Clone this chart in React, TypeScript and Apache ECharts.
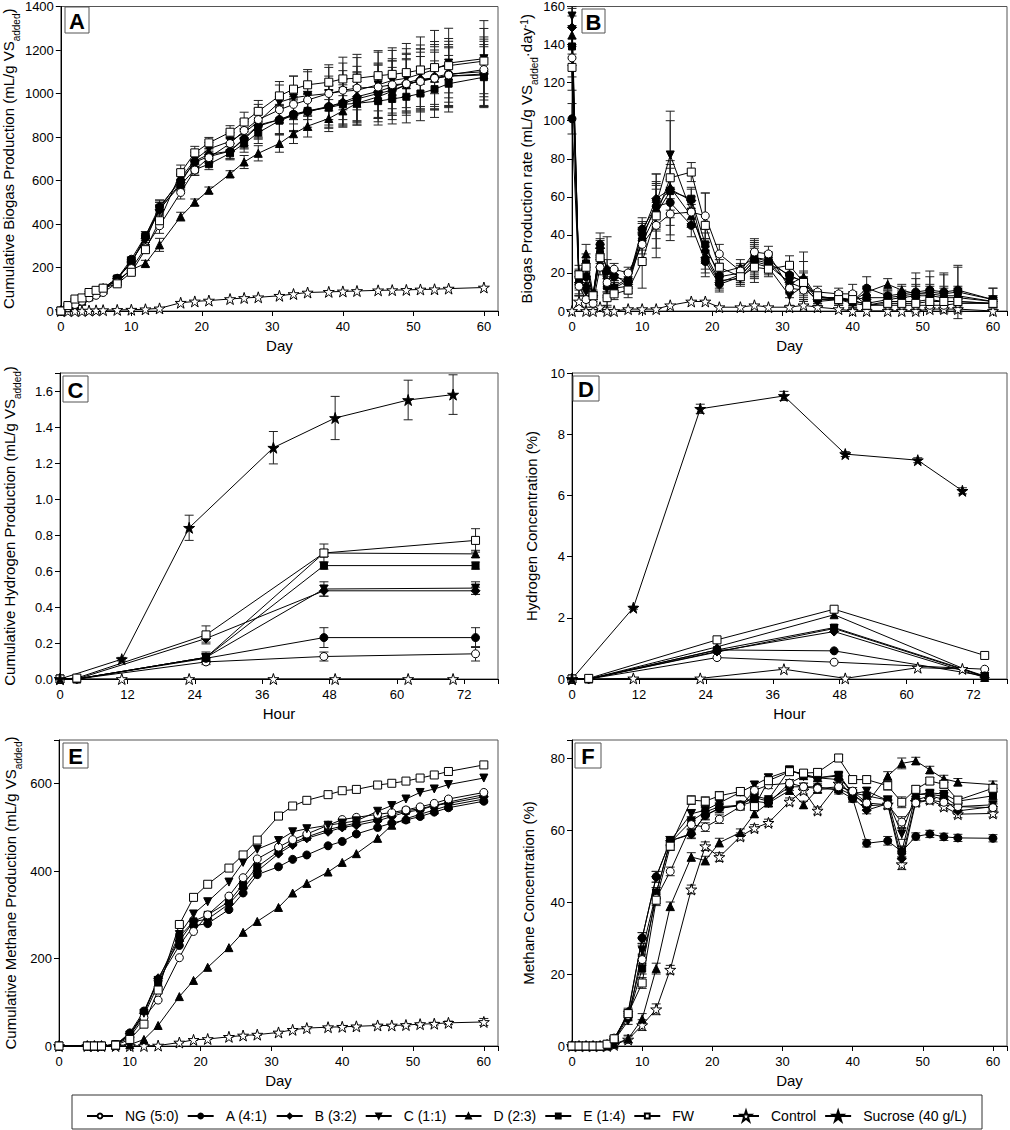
import React, { useEffect, useRef } from 'react';
import * as echarts from 'echarts';

// ---------- Panel A: cumulative biogas (mL/g VS added) ----------
const daysA = [0,1,2,3,4,5,6,8,10,12,14,17,19,21,24,26,28,31,33,35,38,40,42,45,47,49,51,53,55,60];
const NG_A = [0,15,30,45,60,72,85,130,195,290,392,545,648,705,770,830,880,925,950,970,1000,1015,1025,1030,1040,1045,1055,1070,1085,1110];
const A_A = [0,20,35,50,70,90,105,150,238,345,480,600,685,710,735,790,850,880,905,920,940,955,975,1000,1015,1040,1060,1075,1090,1100];
const B_A = [0,20,35,50,70,90,105,150,225,335,465,590,690,720,735,795,855,880,900,915,940,960,985,1010,1030,1050,1065,1070,1080,1090];
const C_A = [0,18,32,48,65,85,100,145,230,325,470,610,695,745,780,820,870,960,980,990,1000,1010,1015,1040,1060,1070,1090,1110,1140,1160];
const D_A = [0,15,30,45,65,85,100,140,190,218,304,434,500,555,630,685,725,770,815,850,885,920,955,985,1010,1040,1060,1070,1080,1085];
const E_A = [0,20,35,50,70,90,105,150,220,345,470,580,650,675,725,770,820,875,900,920,935,950,955,965,975,985,1000,1020,1045,1075];
const FW_A = [0,25,55,60,85,95,105,125,178,282,415,636,727,773,822,869,918,989,1020,1040,1052,1067,1070,1082,1088,1096,1108,1119,1128,1149];
const CTRL_A = [0,0,0,0,2,3,4,5,6,8,12,38,44,48,55,60,63,70,78,85,88,90,92,95,96,97,99,100,103,108];
const NG_A_err = [0,2,3,4,5,5,6,8,10,15,35,30,25,25,30,40,50,60,70,75,80,90,100,110,110,110,115,120,125,140];
const A_A_err = [0,2,3,4,5,5,6,8,10,20,30,30,30,25,35,45,55,70,80,90,100,110,120,130,135,140,145,150,150,160];
const B_A_err = [0,2,3,4,5,5,6,8,10,20,35,30,25,25,35,45,55,65,75,85,95,105,115,125,130,135,140,145,145,150];
const C_A_err = [0,2,3,4,5,5,6,8,10,20,40,40,35,30,40,60,80,95,100,110,120,130,150,150,150,160,170,180,160,175];
const D_A_err = [0,2,3,4,5,5,6,8,10,15,30,20,15,15,15,30,35,40,45,50,60,70,80,100,110,120,130,130,135,140];
const E_A_err = [0,2,3,4,5,5,6,8,10,20,30,25,25,25,30,40,50,60,70,75,80,90,100,110,115,120,125,130,130,140];
const FW_A_err = [0,2,3,4,5,5,6,8,10,15,30,35,30,25,30,45,50,50,60,70,80,100,110,115,110,110,115,120,125,150];

// ---------- Panel B: biogas production rate ----------
const daysB = [0,1,2,3,4,5,6,8,10,12,14,17,19,21,24,26,28,31,33,35,38,40,42,45,47,49,51,53,55,60];
const NG_B = [133,13,6,4,23,15,22,20,35,45,51,52,50,30,21,31,30,12,11,10,9,9,3,3,3,3,3,3,4,4];
const A_B = [101,14,18,8,35,21,18,16,43,55,57,45,26,14,18,27,25,19,15,6,7,5,12,8,9,10,11,10,11,6];
const B_B = [149,15,13,8,33,22,19,14,41,59,64,58,28,15,19,26,24,15,12,6,6,5,4,6,7,8,8,7,7,5];
const C_B = [155,13,10,7,28,12,12,13,38,56,82,52,30,16,17,25,23,8,13,5,6,4,3,5,5,5,6,5,5,4];
const D_B = [145,17,30,9,32,15,13,17,40,54,65,50,33,20,23,28,26,14,18,7,7,5,10,14,11,9,9,8,8,5];
const E_B = [139,16,25,8,30,13,12,16,36,51,63,59,35,18,20,28,27,18,16,7,7,6,7,7,8,9,10,9,10,6];
const FW_B = [128,19,23,8,28,7,9,11,26,50,70,73,45,23,18,23,22,24,15,8,6,6,3,4,4,4,5,5,5,4];
const CTRL_B = [0,5,0,0,2,0,0,1,1,1,3,5,5,2,2,3,2,2,3,2,1,0,0,0,0,0,1,1,1,0];
const NG_B_err = [10,5,4,2,4,5,3,3,8,12,14,8,12,5,4,6,4,5,5,3,3,5,2,2,2,2,2,2,2,2];
const A_B_err = [8,6,5,2,6,18,3,4,6,12,12,6,8,4,4,8,4,5,6,3,3,4,6,3,4,10,10,10,12,6];
const B_B_err = [10,6,5,2,5,5,3,4,6,13,15,6,8,4,4,8,4,5,5,3,3,4,3,3,3,5,5,5,5,3];
const C_B_err = [5,5,5,2,5,5,3,4,6,12,23,6,8,4,4,8,4,5,5,3,3,4,3,3,3,5,5,5,5,3];
const D_B_err = [10,5,5,2,5,5,3,4,6,12,12,6,8,4,4,8,4,5,13,3,3,4,3,3,3,5,5,5,5,3];
const E_B_err = [10,5,5,2,5,5,3,4,6,13,12,6,8,4,4,10,4,5,10,3,3,4,3,3,3,8,8,10,14,6];
const FW_B_err = [12,5,5,2,5,5,3,4,14,22,30,5,17,4,4,8,4,5,5,3,3,4,3,3,3,5,5,5,5,3];

// ---------- Panel C: cumulative hydrogen (mL/g VS added) ----------
const hoursMain = [0,3,26,47,74];
const hoursSuc = [0,11,23,38,49,62,70];
const NG_C = [0,0,0.095,0.125,0.14];
const A_C = [0,0,0.115,0.23,0.23];
const B_C = [0,0,0.225,0.49,0.49];
const C_C = [0,0,0.12,0.50,0.505];
const D_C = [0,0,0.12,0.70,0.695];
const E_C = [0,0,0.12,0.63,0.63];
const FW_C = [0,0.005,0.245,0.70,0.77];
const CTRL_C = [0,0,0,0,0,0,0];
const SUC_C = [0,0.11,0.84,1.285,1.45,1.55,1.58];
const NG_C_err = [0,0,0.015,0.025,0.04];
const A_C_err = [0,0,0.02,0.055,0.055];
const B_C_err = [0,0,0.02,0.03,0.02];
const C_C_err = [0,0,0.03,0.04,0.035];
const D_C_err = [0,0,0.02,0.02,0.02];
const E_C_err = [0,0,0.02,0.02,0.02];
const FW_C_err = [0,0,0.05,0.05,0.065];
const SUC_C_err = [0,0.01,0.07,0.09,0.12,0.11,0.11];

// ---------- Panel D: hydrogen concentration (%) ----------
const NG_D = [0,0,0.70,0.55,0.32];
const A_D = [0,0,0.95,0.92,0.10];
const B_D = [0,0,0.90,1.55,0.05];
const C_D = [0,0,0.88,1.65,0.08];
const D_D = [0,0,1.05,2.10,0.05];
const E_D = [0,0,0.95,1.68,0.10];
const FW_D = [0,0.02,1.28,2.28,0.77];
const CTRL_D = [0,0.02,0.02,0.32,0.02,0.37,0.33];
const SUC_D = [0,2.33,8.83,9.25,7.35,7.15,6.15];
const SUC_D_err = [0,0.05,0.15,0.15,0.08,0.08,0.1];

// ---------- Panel E: cumulative methane (mL/g VS added) ----------
const daysE = [0,4,5,6,8,10,12,14,17,19,21,24,26,28,31,33,35,38,40,42,45,47,49,51,53,55,60];
const NG_E = [0,0,0,0,3,20,65,105,202,262,300,343,385,428,455,472,485,505,518,523,530,534,540,547,555,565,580];
const A_E = [0,0,0,0,3,30,80,150,230,275,280,312,350,392,410,427,437,458,468,485,500,510,517,525,535,545,560];
const B_E = [0,0,0,0,3,28,75,155,240,285,290,325,360,400,440,460,475,490,500,505,515,525,535,540,550,555,570];
const C_E = [0,0,0,0,3,25,75,150,255,302,330,375,420,450,470,490,497,505,510,515,537,550,565,580,588,598,613];
const D_E = [0,0,0,0,1,3,15,47,113,150,180,225,260,285,317,350,372,398,420,440,475,505,520,530,540,550,565];
const E_E = [0,0,0,0,3,25,70,140,250,285,300,330,370,410,445,465,478,495,503,510,520,530,538,543,550,558,575];
const FW_E = [0,0,0,0,2,15,50,128,278,340,370,407,437,471,526,549,562,575,584,587,597,601,606,613,620,628,643];
const CTRL_E = [0,0,0,0,0,0,0,1,8,14,16,21,24,26,31,37,41,43,44,45,47,47,48,50,51,53,55];
const CTRL_E_err = [0,0,0,0,0,0,0,0,1,1,1,1,1,2,2,2,2,2,2,2,2,2,3,3,3,4,8];

// ---------- Panel F: methane concentration (%) ----------
const daysF = [0,1,2,3,4,5,6,8,10,12,14,17,19,21,24,26,28,31,33,35,38,40,42,45,47,49,51,53,55,60];
const NG_F = [0,0,0,0,0,0.5,2.2,8.5,24,41,48.5,61.5,60.8,63,66.5,71,72.5,73,72,71.5,72,70.8,67.5,67,62.2,67.5,68.3,67.7,66.5,66.2];
const A_F = [0,0,0,0,0,0.5,1.5,9,30,47,57,59,64,66,67,69,68,72,72,72,71,68.7,56.3,57,54,58.2,58.9,58.1,57.8,57.7];
const B_F = [0,0,0,0,0,0.5,1.5,9.5,30,47,57,58.8,64.2,66,66.8,68,67.5,73,75,74.5,74,69,65.5,67.3,52,68.3,69.5,68.5,65.3,66.5];
const C_F = [0,0,0,0,0,0.3,1.5,7,26.5,42.5,57,64.5,65.5,67.5,70.5,72.5,74.5,76.5,75.5,74.5,75,70,70.8,68.2,58.9,69.8,70,69.3,66.5,67];
const D_F = [0,0,0,0,0,0,0.5,2,7.5,21.5,38.8,52.5,51.5,56.5,59.3,64.5,67.5,71,67,71.3,71.5,69.7,67.4,75,78.5,79.2,76.7,74.2,73.3,72.6];
const E_F = [0,0,0,0,0,0.5,1.5,8,21.5,42.5,56.5,62.5,65,66.5,66.8,69.5,68.5,76.8,75,74.5,75.3,70.3,69.5,68.3,54,69.8,70.3,70,68,69.5];
const FW_F = [0,0,0,0,0,0.5,2,9,17.5,40.5,55.5,68.3,68,69.5,70.7,66.5,73.7,76.2,75.8,76,80,74,74,72.3,67.7,71.3,73.6,72.7,68.3,71.6];
const CTRL_F = [0,0,0,0,0,0,0.3,1.8,5.8,10.2,21.2,43.5,55.5,52.5,58.2,60.5,62,67.9,71,65.4,72.9,70,66.7,67.1,50.5,67.8,68.4,66.5,64.4,64.6];
const F_err = [0,0,0,0,0,0.3,0.5,1,1.5,1.5,1.2,1.2,1.2,1.2,1,1,1,1,1,1,1,1,1,1.2,1.5,1,1,1,1,1];

// ---------- Legend names ----------
const NAMES_1 = ['NG (5:0)','A (4:1)','B (3:2)','C (1:1)','D (2:3)','E (1:4)','FW'];
const NAMES_2 = ['Control','Sucrose (40 g/L)'];

const FONT = "'Liberation Sans', Arial, Helvetica, sans-serif";
const STAR = 'path://M50,0L61.2,34.5L97.6,34.5L68.2,55.9L79.4,90.5L50,69.1L20.6,90.5L31.8,55.9L2.4,34.5L38.8,34.5Z';

const STYLE: Record<string, any> = {
  'NG (5:0)': { symbol: 'circle', size: 8, fill: '#fff' },
  'A (4:1)': { symbol: 'circle', size: 8, fill: '#000' },
  'B (3:2)': { symbol: 'diamond', size: 9, fill: '#000' },
  'C (1:1)': { symbol: 'triangle', size: 8, fill: '#000', rotate: 180 },
  'D (2:3)': { symbol: 'triangle', size: 8, fill: '#000' },
  'E (1:4)': { symbol: 'rect', size: 7, fill: '#000' },
  'FW': { symbol: 'rect', size: 8, fill: '#fff' },
  'Control': { symbol: STAR, size: 11, fill: '#fff' },
  'Sucrose (40 g/L)': { symbol: STAR, size: 11, fill: '#000' },
};

function errRender(params: any, api: any) {
  const x = api.value(0), y = api.value(1), e = api.value(2);
  if (!e) return { type: 'group', children: [] };
  const p1 = api.coord([x, y + e]);
  const p2 = api.coord([x, y - e]);
  const c = 4.5;
  const st = { stroke: '#222', lineWidth: 1 };
  return {
    type: 'group',
    children: [
      { type: 'line', shape: { x1: p1[0], y1: p1[1], x2: p2[0], y2: p2[1] }, style: st },
      { type: 'line', shape: { x1: p1[0] - c, y1: p1[1], x2: p1[0] + c, y2: p1[1] }, style: st },
      { type: 'line', shape: { x1: p2[0] - c, y1: p2[1], x2: p2[0] + c, y2: p2[1] }, style: st },
    ],
  };
}

function buildSeries() {
  const out: any[] = [];
  const line = (idx: number, name: string, xs: number[], ys: number[], errs?: number[]) => {
    const s = STYLE[name];
    if (errs) {
      out.push({
        type: 'custom', xAxisIndex: idx, yAxisIndex: idx, silent: true, z: 2,
        renderItem: errRender, encode: { x: 0, y: 1 },
        data: xs.map((x, k) => [x, ys[k], errs[k]]),
      });
    }
    out.push({
      type: 'line', name, xAxisIndex: idx, yAxisIndex: idx, z: 3,
      data: xs.map((x, k) => [x, ys[k]]),
      symbol: s.symbol, symbolSize: s.size, symbolRotate: s.rotate || 0,
      showAllSymbol: true,
      itemStyle: { color: s.fill, borderColor: '#000', borderWidth: 1 },
      lineStyle: { color: '#000', width: 1 },
      emphasis: { disabled: true },
    });
  };
  // A
  line(0, 'Control', daysA, CTRL_A);
  line(0, 'D (2:3)', daysA, D_A, D_A_err);
  line(0, 'E (1:4)', daysA, E_A, E_A_err);
  line(0, 'A (4:1)', daysA, A_A, A_A_err);
  line(0, 'B (3:2)', daysA, B_A, B_A_err);
  line(0, 'C (1:1)', daysA, C_A, C_A_err);
  line(0, 'NG (5:0)', daysA, NG_A, NG_A_err);
  line(0, 'FW', daysA, FW_A, FW_A_err);
  // B
  line(1, 'Control', daysB, CTRL_B);
  line(1, 'A (4:1)', daysB, A_B, A_B_err);
  line(1, 'B (3:2)', daysB, B_B, B_B_err);
  line(1, 'C (1:1)', daysB, C_B, C_B_err);
  line(1, 'D (2:3)', daysB, D_B, D_B_err);
  line(1, 'E (1:4)', daysB, E_B, E_B_err);
  line(1, 'NG (5:0)', daysB, NG_B, NG_B_err);
  line(1, 'FW', daysB, FW_B, FW_B_err);
  // C
  line(2, 'Control', hoursSuc, CTRL_C);
  line(2, 'NG (5:0)', hoursMain, NG_C, NG_C_err);
  line(2, 'A (4:1)', hoursMain, A_C, A_C_err);
  line(2, 'B (3:2)', hoursMain, B_C, B_C_err);
  line(2, 'C (1:1)', hoursMain, C_C, C_C_err);
  line(2, 'D (2:3)', hoursMain, D_C, D_C_err);
  line(2, 'E (1:4)', hoursMain, E_C, E_C_err);
  line(2, 'FW', hoursMain, FW_C, FW_C_err);
  line(2, 'Sucrose (40 g/L)', hoursSuc, SUC_C, SUC_C_err);
  // D
  line(3, 'Control', hoursSuc, CTRL_D);
  line(3, 'NG (5:0)', hoursMain, NG_D);
  line(3, 'A (4:1)', hoursMain, A_D);
  line(3, 'B (3:2)', hoursMain, B_D);
  line(3, 'C (1:1)', hoursMain, C_D);
  line(3, 'D (2:3)', hoursMain, D_D);
  line(3, 'E (1:4)', hoursMain, E_D);
  line(3, 'FW', hoursMain, FW_D);
  line(3, 'Sucrose (40 g/L)', hoursSuc, SUC_D, SUC_D_err);
  // E
  line(4, 'Control', daysE, CTRL_E, CTRL_E_err);
  line(4, 'D (2:3)', daysE, D_E);
  line(4, 'A (4:1)', daysE, A_E);
  line(4, 'B (3:2)', daysE, B_E);
  line(4, 'E (1:4)', daysE, E_E);
  line(4, 'NG (5:0)', daysE, NG_E);
  line(4, 'C (1:1)', daysE, C_E);
  line(4, 'FW', daysE, FW_E);
  // F
  line(5, 'Control', daysF, CTRL_F, F_err);
  line(5, 'D (2:3)', daysF, D_F, F_err);
  line(5, 'A (4:1)', daysF, A_F, F_err);
  line(5, 'B (3:2)', daysF, B_F, F_err);
  line(5, 'C (1:1)', daysF, C_F, F_err);
  line(5, 'E (1:4)', daysF, E_F, F_err);
  line(5, 'NG (5:0)', daysF, NG_F, F_err);
  line(5, 'FW', daysF, FW_F, F_err);
  return out;
}

const RICH = {
  m: { fontSize: 15, lineHeight: 17, verticalAlign: 'top', fontFamily: FONT, color: '#000' },
  s: { fontSize: 10, lineHeight: 10, padding: [10, 0, 0, 0], verticalAlign: 'top', fontFamily: FONT, color: '#000' },
  p: { fontSize: 10, lineHeight: 10, verticalAlign: 'top', fontFamily: FONT, color: '#000' },
};

function xAxis(idx: number, max: number, interval: number, name: string) {
  return {
    type: 'value', gridIndex: idx, min: 0, max, interval, name,
    nameLocation: 'middle', nameGap: 27,
    nameTextStyle: { fontSize: 15, fontFamily: FONT, color: '#000' },
    axisLine: { show: true, lineStyle: { color: '#000', width: 1 } },
    axisTick: { show: true, inside: false, length: 5, lineStyle: { color: '#000' } },
    splitLine: { show: false },
    axisLabel: {
      color: '#000', fontSize: 13, fontFamily: FONT, margin: 9,
      formatter: (v: number) => (Math.abs(v / interval - Math.round(v / interval)) < 1e-6 ? String(v) : ''),
    },
  };
}

function yAxis(idx: number, max: number, interval: number, name: string, gap: number, dec: number) {
  return {
    type: 'value', gridIndex: idx, min: 0, max, interval, name,
    nameLocation: 'middle', nameGap: gap,
    nameTextStyle: { fontSize: 15, fontFamily: FONT, color: '#000', rich: RICH },
    axisLine: { show: true, lineStyle: { color: '#000', width: 1 } },
    axisTick: { show: true, inside: false, length: 5, lineStyle: { color: '#000' } },
    splitLine: { show: false },
    axisLabel: {
      color: '#000', fontSize: 13, fontFamily: FONT, margin: 7,
      formatter: (v: number) => (Math.abs(v / interval - Math.round(v / interval)) < 1e-6 ? v.toFixed(dec) : ''),
    },
  };
}

const LETTERS = [
  { t: 'A', x: 65, y: 7, w: 24, h: 26 },
  { t: 'B', x: 582, y: 9, w: 23, h: 24 },
  { t: 'C', x: 63, y: 376, w: 25, h: 26 },
  { t: 'D', x: 573, y: 376, w: 26, h: 25 },
  { t: 'E', x: 63, y: 743, w: 25, h: 25 },
  { t: 'F', x: 575, y: 743, w: 26, h: 25 },
];

export default function App() {
  const ref = useRef<HTMLDivElement>(null);
  useEffect(() => {
    document.body.style.margin = '0';
    const chart = echarts.init(ref.current!, null, { renderer: 'svg' });
    const graphics: any[] = [];
    LETTERS.forEach((l) => {
      graphics.push({
        type: 'rect', z: 100, shape: { x: l.x, y: l.y, width: l.w, height: l.h },
        style: { fill: '#fff', stroke: '#555', lineWidth: 1 },
      });
      graphics.push({
        type: 'text', z: 101, x: l.x + l.w / 2, y: l.y + l.h / 2 + 1,
        style: { text: l.t, fill: '#000', font: `bold 22px ${FONT}`, align: 'center', verticalAlign: 'middle' },
      });
    });
    graphics.push({
      type: 'rect', z: 0, shape: { x: 72, y: 1095, width: 910, height: 34 },
      style: { fill: 'none', stroke: '#333', lineWidth: 1 },
    });
    const legendText = { fontSize: 14, fontFamily: FONT, color: '#000', padding: [0, 0, 0, 7] };
    const option: any = {
      animation: false,
      backgroundColor: '#fff',
      grid: [
        { left: 60, top: 4, width: 438, height: 307 },
        { left: 572, top: 5, width: 436, height: 306 },
        { left: 60, top: 373, width: 438, height: 306 },
        { left: 572, top: 373, width: 437, height: 306 },
        { left: 59, top: 740, width: 439, height: 306 },
        { left: 572, top: 740, width: 436, height: 306 },
      ].map((g) => ({ ...g, show: true, borderColor: '#555', borderWidth: 1, containLabel: false })),
      xAxis: [
        xAxis(0, 62, 10, 'Day'),
        xAxis(1, 62, 10, 'Day'),
        xAxis(2, 78, 12, 'Hour'),
        xAxis(3, 78, 12, 'Hour'),
        xAxis(4, 62, 10, 'Day'),
        xAxis(5, 62, 10, 'Day'),
      ],
      yAxis: [
        yAxis(0, 1400, 200, '{m|Cumulative Biogas Production (mL/g VS}{s|added}{m|)}', 39, 0),
        yAxis(1, 160, 20, '{m|Biogas Production rate (mL/g VS}{s|added}{m|·day}{p|-1}{m|)}', 35, 0),
        yAxis(2, 1.7, 0.2, '{m|Cumulative Hydrogen Production (mL/g VS}{s|added}{m|)}', 41, 1),
        yAxis(3, 10, 2, '{m|Hydrogen Concentration (%)}', 31, 0),
        yAxis(4, 700, 200, '{m|Cumulative Methane Production (mL/g VS}{s|added}{m|)}', 39, 0),
        yAxis(5, 85, 20, '{m|Methane Concentration (%)}', 34, 0),
      ],
      legend: [
        {
          data: NAMES_1, left: 81, top: 1104, orient: 'horizontal',
          itemWidth: 26, itemHeight: 6, itemGap: 8, selectedMode: false,
          textStyle: legendText,
        },
        {
          data: NAMES_2, left: 727, top: 1104, orient: 'horizontal',
          itemWidth: 26, itemHeight: 13, itemGap: 8, selectedMode: false,
          textStyle: legendText,
        },
      ],
      graphic: graphics,
      series: buildSeries(),
    };
    chart.setOption(option);
    return () => chart.dispose();
  }, []);
  return <div ref={ref} style={{ width: 1010, height: 1130 }} />;
}
